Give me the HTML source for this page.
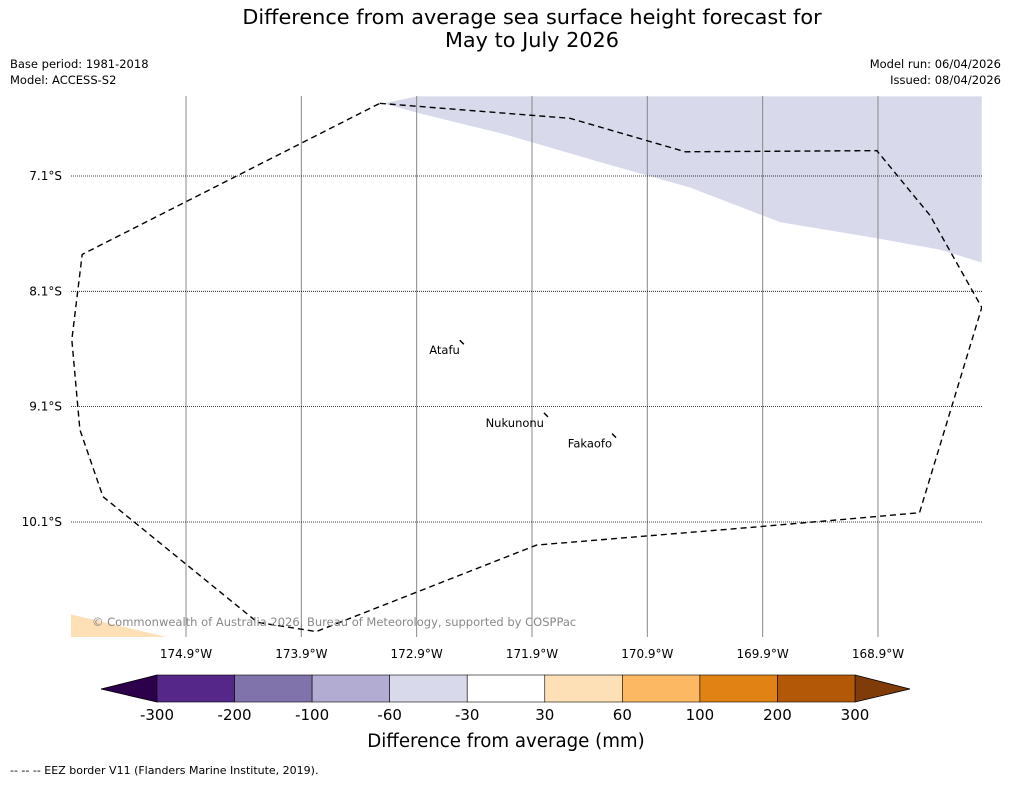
<!DOCTYPE html>
<html><head><meta charset="utf-8"><style>
body{margin:0;background:#fff;font-family:"Liberation Sans","DejaVu Sans",sans-serif}
svg text{font-family:"DejaVu Sans","Liberation Sans",sans-serif}
</style></head><body>
<svg id="c" width="1011" height="781" xmlns="http://www.w3.org/2000/svg">
<rect width="1011" height="781" fill="#fff"/>
<text x="532" y="24" font-size="20.8" text-anchor="middle">Difference from average sea surface height forecast for</text>
<text x="532" y="47" font-size="20.8" text-anchor="middle">May to July 2026</text>
<text x="10" y="68" font-size="11.5">Base period: 1981-2018</text>
<text x="10" y="84" font-size="11.5">Model: ACCESS-S2</text>
<text x="1001" y="68" font-size="11.5" text-anchor="end">Model run: 06/04/2026</text>
<text x="1001" y="84" font-size="11.5" text-anchor="end">Issued: 08/04/2026</text>
<g id="map"></g>
<g id="cb"></g>
<text x="506" y="747" font-size="18.2" text-anchor="middle">Difference from average (mm)</text>
<text x="10" y="774" font-size="11">--  --  -- EEZ border V11 (Flanders Marine Institute, 2019).</text>
</svg>
<script>
const lonTicks=[174.9,173.9,172.9,171.9,170.9,169.9,168.9];
const latTicks=[7.1,8.1,9.1,10.1];
const levels=[-300,-200,-100,-60,-30,30,60,100,200,300];
const colors=["#2d004b","#542788","#8073ac","#b2abd2","#d8daeb","#ffffff","#fee0b6","#fdb863","#e08214","#b35806","#7f3b08"];
const towns=["Atafu","Nukunonu","Fakaofo"];
const townLon=[172.5,171.77,171.18];
const townLat=[8.55,9.18,9.36];
const eezLon=[173.22,171.57,170.57,168.91,168.45,168.0,168.54,169.92,171.86,173.77,174.28,175.62,175.82,175.89,175.80,173.22];
const eezLat=[6.47,6.60,6.89,6.88,7.44,8.24,10.02,10.14,10.30,11.05,10.97,9.88,9.30,8.52,7.78,6.47];
const posLon=[173.19,172.9,168.0,168.0,168.36,168.91,169.75,170.53,171.31,172.13,172.9];
const posLat=[6.47,6.41,6.41,7.85,7.74,7.64,7.50,7.20,6.98,6.74,6.55];
const negLon=[175.9,175.9,175.06];
const negLat=[10.90,11.10,11.10];
const X0=71,X1=982,Y0=96,Y1=637;
const xs=lon=>186+(174.9-lon)*115.33;
const ys=lat=>176+(lat-7.1)*115.33;
const NS="http://www.w3.org/2000/svg";
function mk(tag,at,parent){const e=document.createElementNS(NS,tag);for(const k in at)e.setAttribute(k,at[k]);parent.appendChild(e);return e;}
const map=document.getElementById('map');
const cp=mk('clipPath',{id:'clip'},map);mk('rect',{x:X0,y:Y0,width:X1-X0,height:Y1-Y0},cp);
const g=mk('g',{'clip-path':'url(#clip)'},map);
let p=mk('polygon',{points:posLon.map((v,i)=>xs(v)+','+ys(posLat[i])).join(' '),fill:'#d8daeb'},g);


p=mk('polygon',{points:negLon.map((v,i)=>xs(v)+','+ys(negLat[i])).join(' '),fill:'#fee0b6'},g);


lonTicks.forEach(v=>{const x=xs(v);
 const l=mk('line',{x1:x,x2:x,y1:Y0,y2:Y1,stroke:'#888','stroke-width':1},g);
 
 
 const t=mk('text',{x:x,y:658,'font-size':12,'text-anchor':'middle'},map);t.textContent=v+'°W';
 
 
});
latTicks.forEach(v=>{const y=ys(v);
 const l=mk('line',{x1:X0,x2:X1,y1:y,y2:y,stroke:'#000','stroke-width':0.8,'stroke-dasharray':'1,1'},g);
 
 
 const t=mk('text',{x:62,y:y+4,'font-size':12,'text-anchor':'end'},map);t.textContent=v+'°S';
 
 
});
p=mk('polyline',{points:eezLon.map((v,i)=>xs(v)+','+ys(eezLat[i])).join(' '),fill:'none',stroke:'#000','stroke-width':1.4,'stroke-dasharray':'6,4'},g);


towns.forEach((n,i)=>{const x=xs(townLon[i]),y=ys(townLat[i]);
 const m=mk('line',{x1:x-3,y1:y-3,x2:x+1,y2:y+1,stroke:'#000','stroke-width':1.5},g);
 
 
 const t=mk('text',{x:x-3,y:y+11,'font-size':11.5,'text-anchor':'end'},map);t.textContent=n;
 
 
});
const cr=mk('text',{x:92,y:626,'font-size':11.5,fill:'#888'},map);cr.textContent='© Commonwealth of Australia 2026, Bureau of Meteorology, supported by COSPPac';


const cb=document.getElementById('cb');
const CB0=157,CB1=855,CT=675,CBt=702,segW=(CB1-CB0)/(levels.length-1);
const cx=i=>CB0+i*segW;
let t=mk('polygon',{points:`${CB0},${CT} ${CB0},${CBt} 101,689`,fill:colors[0],stroke:'#000','stroke-width':0.8},cb);


t=mk('polygon',{points:`${CB1},${CT} ${CB1},${CBt} 910,689`,fill:colors[colors.length-1],stroke:'#000','stroke-width':0.8},cb);


for(let i=0;i<levels.length-1;i++){
 const r=mk('rect',{x:cx(i),y:CT,width:segW,height:CBt-CT,fill:colors[i+1],stroke:'#000','stroke-width':0.6},cb);
 
 
}
levels.forEach((v,i)=>{const l=mk('text',{x:cx(i),y:720,'font-size':15,'text-anchor':'middle'},cb);l.textContent=v;
 
 
});
</script>
</body></html>
